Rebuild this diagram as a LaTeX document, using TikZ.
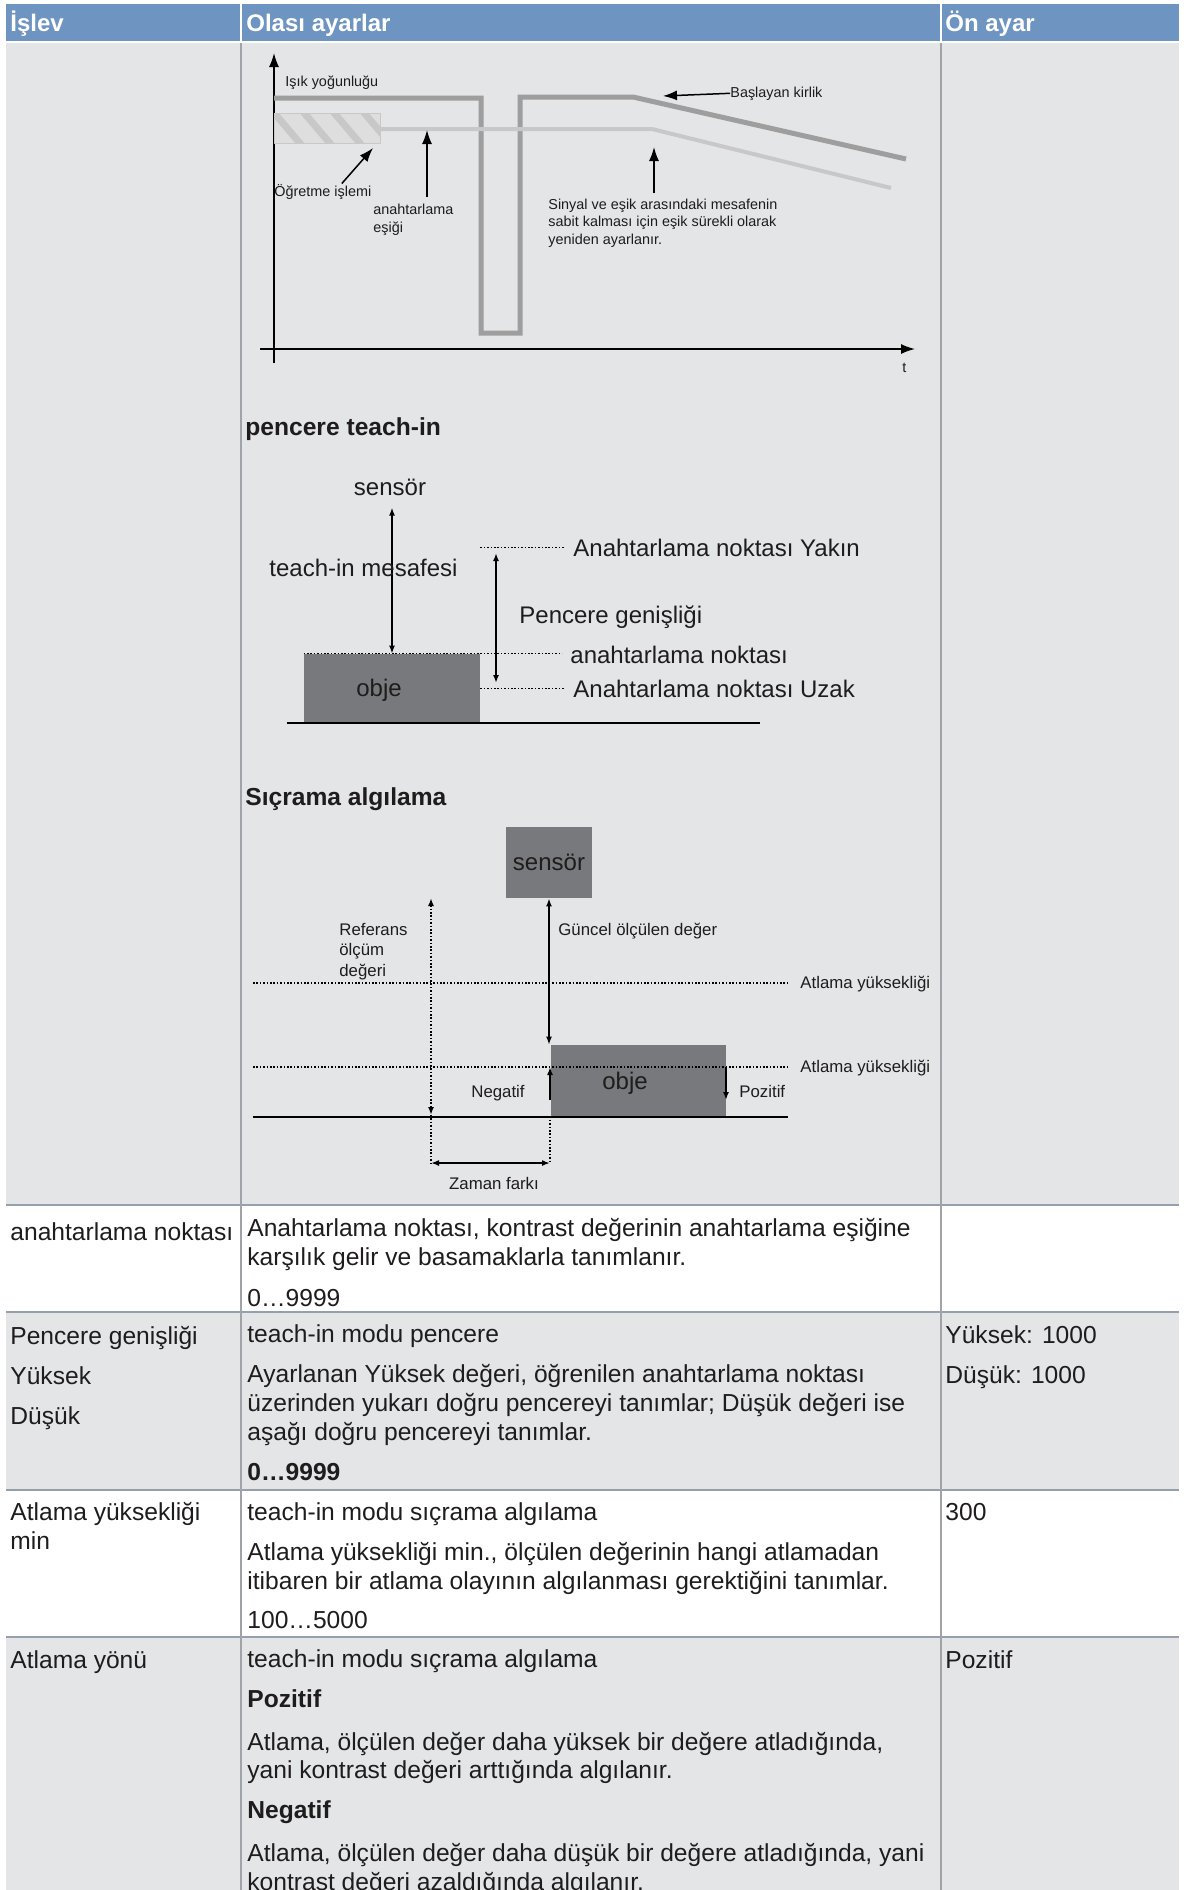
\documentclass[tikz,border=0pt]{standalone}
\usepackage{fontspec}
\setmainfont{Liberation Sans}
\usepackage{tikz}
\usetikzlibrary{arrows.meta}
\definecolor{hdblue}{RGB}{110,148,193}
\definecolor{cellgray}{RGB}{228,229,231}
\definecolor{rulegray}{RGB}{150,160,172}
\definecolor{colgray}{RGB}{160,164,168}
\definecolor{sigdark}{RGB}{158,158,158}
\definecolor{siglight}{RGB}{200,200,200}
\definecolor{hatchbg}{RGB}{222,222,222}
\definecolor{objgray}{RGB}{119,121,124}
\definecolor{ink}{RGB}{30,28,28}
\newcommand{\bodyfont}{\fontsize{12.3}{14.3}\selectfont}
\newcommand{\diagfont}{\fontsize{12}{14}\selectfont}
\tikzset{
  cell/.style={anchor=base west, inner sep=0pt, align=left, text=ink, font=\bodyfont},
  diag/.style={anchor=base west, inner sep=0pt, text=ink, font=\diagfont},
  head/.style={anchor=base west, inner sep=0pt, text=white, font=\fontsize{12}{14}\selectfont\bfseries},
  tiny/.style={anchor=base west, inner sep=0pt, align=left, text=ink, font=\fontsize{7.2}{8.9}\selectfont},
  lab/.style={anchor=base west, inner sep=0pt, align=left, text=ink, font=\fontsize{8.4}{10.25}\selectfont},
  objbox/.style={fill=objgray, draw=none, inner sep=0pt, text=ink, font=\diagfont},
  dots/.style={line width=0.8pt, dash pattern=on 0.8pt off 0.9pt},
  ground/.style={line width=1.2pt},
  arr/.style={line width=1pt, -{Latex[length=4pt,width=3pt]}},
  dbl/.style={line width=1pt, {Latex[length=4pt,width=3pt]}-{Latex[length=4pt,width=3pt]}},
  bigarr/.style={line width=0.75pt, -{Latex[length=7pt,width=5pt]}}
}

\begin{document}
\begin{tikzpicture}[x=0.5pt,y=-0.5pt]
\useasboundingbox (0,0) rectangle (1192,1890);
% table
\fill[hdblue] (6,4) rectangle (1179,41);
\fill[cellgray] (6,43) rectangle (1179,1205);
\fill[cellgray] (6,1312) rectangle (1179,1490);
\fill[cellgray] (6,1637) rectangle (1179,1890);
\foreach \ry in {1205,1312,1490,1637}
  \draw[rulegray, line width=1pt] (6,\ry) -- (1179,\ry);
\foreach \cx in {241,941} {
  \draw[white, line width=0.75pt] (\cx,4) -- (\cx,41);
  \draw[colgray, line width=0.75pt] (\cx,43) -- (\cx,1890);
}
\node[head] (h1) at (10,31) {İşlev};
\node[head] (h2) at (246,31) {Olası ayarlar};
\node[head] (h3) at (945,31) {Ön ayar};
%
% chart: light intensity
\draw[bigarr] (274,363) -- (274,53);
\draw[bigarr] (260,349) -- (915,349);
\node[tiny] (tlab) at (902,372) {t};
\node[tiny] (ylab) at (285,86) {Işık yoğunluğu};
\fill[hatchbg] (274,113) rectangle (380,143);
\begin{scope}
\clip (274,113) rectangle (380,143);
\foreach \s in {240,270,...,390}
  \draw[siglight, line width=3.5pt] (\s,108) -- (\s+34,148);
\end{scope}
\draw[siglight, line width=0.5pt] (274,113) rectangle (380,143);
\draw[sigdark, line width=2.5pt] (274,98) -- (481,98) -- (481,333) -- (520,333) -- (520,97) -- (633,97) -- (906,159);
\draw[siglight, line width=2pt] (380,129) -- (652,129) -- (891,188);
\node[tiny] (dirtlab) at (730,97) {Başlayan kirlik};
\coordinate (dirttip) at (663,96);
\draw[bigarr] (dirtlab.west) -- (dirttip);
\node[tiny] (teachlab) at (274,196) {Öğretme işlemi};
\coordinate (teachtip) at (373,148);
\draw[bigarr] ([xshift=9.5pt]teachlab.north) -- (teachtip);
\node[tiny] (esiklab) at (373,232) {anahtarlama\\eşiği};
\coordinate (esikfoot) at (427,197);
\coordinate (esiktip) at (427,130);
\draw[bigarr] (esikfoot) -- (esiktip);
\node[tiny] (adjlab) at (548,244.6) {Sinyal ve eşik arasındaki mesafenin\\sabit kalması için eşik sürekli olarak\\yeniden ayarlanır.};
\coordinate (adjfoot) at (654,193);
\coordinate (adjtip) at (654,147);
\draw[bigarr] (adjfoot) -- (adjtip);
%
% window teach-in
\node[diag, font=\bodyfont\bfseries] (wintitle) at (245,435) {pencere teach-in};
\node[diag, anchor=base] (sens1) at (390,495) {sensör};
\node[objbox, minimum width=88pt, minimum height=34.5pt] (obj1) at (392,688.5) {};
\node[diag, anchor=center] (obj1t) at (379,690) {obje};
\draw[dbl] ([yshift=-6pt]obj1.north |- sens1.south) -- (obj1.north);
\node[diag] (distlab) at (269,576) {teach-in mesafesi};
\node[diag] (yakinlab) at (573,556) {Anahtarlama noktası Yakın};
\node[diag] (snlab) at (570,663) {anahtarlama noktası};
\node[diag] (uzaklab) at (573,697) {Anahtarlama noktası Uzak};
\draw[dots, shorten >=4pt] (yakinlab.west -| obj1.east) -- (yakinlab.west);
\draw[dots, shorten >=4pt] (obj1.north west) -- (obj1.north west -| snlab.west);
\draw[dots, shorten >=4pt] (uzaklab.west -| obj1.east) -- (uzaklab.west);
\coordinate (wintop) at (496,553);
\coordinate (winbot) at (496,683);
\draw[dbl] (wintop) -- (winbot);
\node[diag] (genlab) at (519,623) {Pencere genişliği};
\draw[ground] (287,723) -- (760,723);
%
% jump detection
\node[diag, font=\bodyfont\bfseries] (jumptitle) at (245,805) {Sıçrama algılama};
\node[objbox, minimum width=43pt, minimum height=35.5pt] (sens2) at (549,862.5) {sensör};
\node[objbox, minimum width=87.5pt, minimum height=35.5pt] (obj2) at (638.5,1080.5) {};
\node[diag, anchor=center] (obj2t) at (625,1083) {obje};
\draw[dbl] (sens2.south) -- (sens2.south |- obj2.north);
\node[lab] (curlab) at (558,935) {Güncel ölçülen değer};
\coordinate (reftop) at (431,898);
\coordinate (refbot) at (431,1115);
\draw[dbl, dots] (reftop) -- (refbot);
\node[lab] (reflab) at (339,976) {Referans\\ölçüm\\değeri};
\node[lab] (jump1lab) at (800,988) {Atlama yüksekliği};
\node[lab] (jump2lab) at (800,1072) {Atlama yüksekliği};
\coordinate (jl1) at (253,983);
\coordinate (jl2) at (253,1067);
\draw[dots, shorten >=6pt] (jl1) -- (jl1 -| jump1lab.west);
\draw[dots, shorten >=6pt] (jl2) -- (jl2 -| jump2lab.west);
\draw[ground] (253,1117) -- (788,1117);
\coordinate (negfoot) at (550,1100);
\coordinate (negtip) at (550,1067);
\draw[arr] (negfoot) -- (negtip);
\node[lab, anchor=base] (neglab) at (498,1097) {Negatif};
\coordinate (posfoot) at (726,1067);
\coordinate (postip) at (726,1100);
\draw[arr] (posfoot) -- (postip);
\node[lab] (poslab) at (739,1097) {Pozitif};
\coordinate (zl) at (431,1163);
\coordinate (zr) at (550,1163);
\draw[dots] (refbot) -- (zl);
\draw[dots] (zr |- obj2.south) -- (zr);
\draw[dbl] (zl) -- (zr);
\node[lab, anchor=base] (zamanlab) at (494,1189) {Zaman farkı};
%
% table rows (base = last line)
\node[cell] (r1a) at (10,1240) {anahtarlama noktası};
\node[cell] (r1b) at (247,1306) {Anahtarlama noktası, kontrast değerinin anahtarlama eşiğine\\karşılık gelir ve basamaklarla tanımlanır.\\[6pt]0…9999};
\node[cell] (r2a) at (10,1424) {Pencere genişliği\\[5.7pt]Yüksek\\[5.7pt]Düşük};
\node[cell] (r2b) at (247,1480) {teach-in modu pencere\\[5.7pt]Ayarlanan Yüksek değeri, öğrenilen anahtarlama noktası\\üzerinden yukarı doğru pencereyi tanımlar; Düşük değeri ise\\aşağı doğru pencereyi tanımlar.\\[5.7pt]\textbf{0…9999}};
\node[cell] (r2c) at (945,1383) {Yüksek: 1000\\[5.7pt]Düşük: 1000};
\node[cell] (r3a) at (10,1549) {Atlama yüksekliği\\min};
\node[cell] (r3b) at (247,1628) {teach-in modu sıçrama algılama\\[6pt]Atlama yüksekliği min., ölçülen değerinin hangi atlamadan\\itibaren bir atlama olayının algılanması gerektiğini tanımlar.\\[5pt]100…5000};
\node[cell] (r3c) at (945,1520) {300};
\node[cell] (r4a) at (10,1668) {Atlama yönü};
\node[cell] (r4b) at (247,1890) {teach-in modu sıçrama algılama\\[5.7pt]\textbf{Pozitif}\\[7pt]Atlama, ölçülen değer daha yüksek bir değere atladığında,\\yani kontrast değeri arttığında algılanır.\\[5.7pt]\textbf{Negatif}\\[7pt]Atlama, ölçülen değer daha düşük bir değere atladığında, yani\\kontrast değeri azaldığında algılanır.};
\node[cell] (r4c) at (945,1668) {Pozitif};
\end{tikzpicture}
\end{document}
